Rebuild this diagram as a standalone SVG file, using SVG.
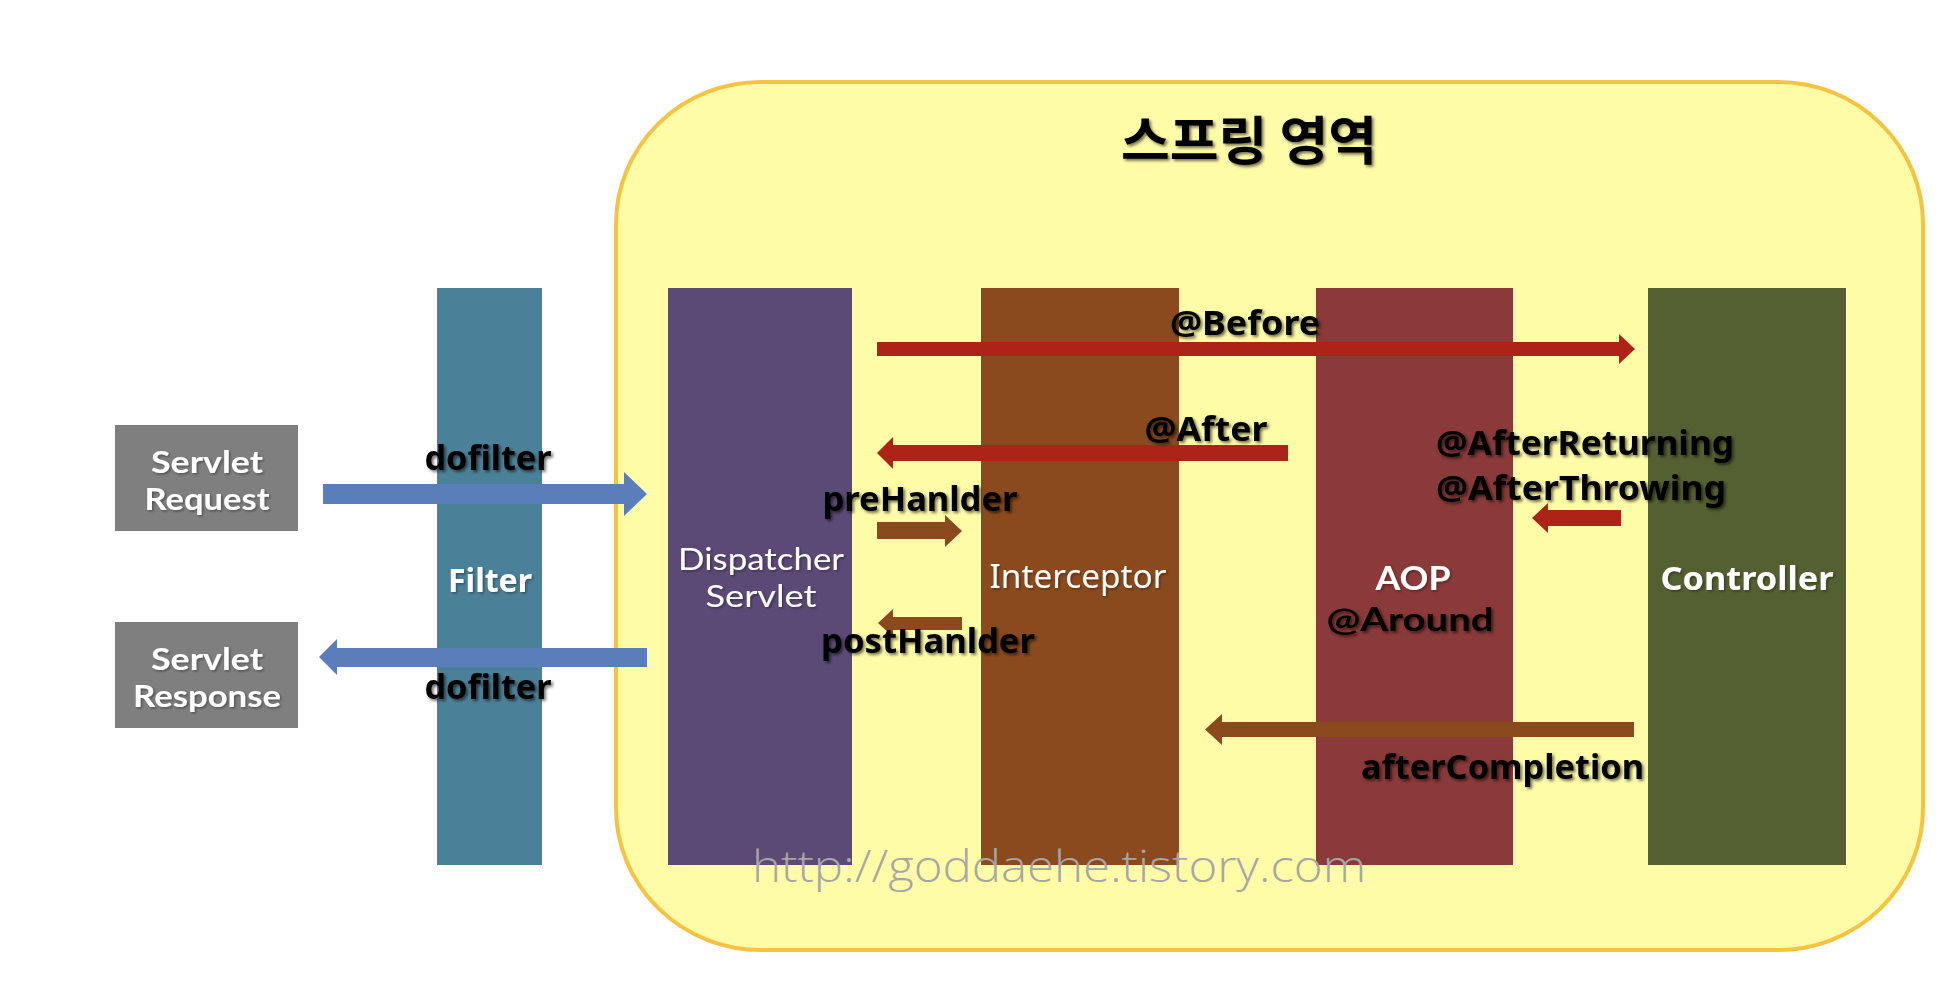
<svg xmlns="http://www.w3.org/2000/svg" width="1958" height="990" viewBox="0 0 1958 990">
<defs>
<filter id="sh" x="-10%" y="-30%" width="120%" height="160%">
<feDropShadow dx="2" dy="2" stdDeviation="1.6" flood-color="#000" flood-opacity="0.55"/>
</filter>
<filter id="shw" x="-10%" y="-30%" width="120%" height="160%">
<feDropShadow dx="1.5" dy="1.5" stdDeviation="1" flood-color="#000" flood-opacity="0.35"/>
</filter>
</defs>
<style>
.lbl{font-family:"Noto Sans","Liberation Sans",sans-serif;font-weight:bold;font-size:34px;fill:#000;filter:url(#sh)}
.wt{font-family:"Noto Sans","Liberation Sans",sans-serif;font-size:33px;fill:#fff;text-anchor:middle;filter:url(#shw)}
.st{font-family:Lato,"Noto Sans",sans-serif;font-size:31px}
.st33{font-family:Lato,"Noto Sans",sans-serif;font-size:33px}
.wb{font-weight:bold}
.mid{text-anchor:middle}
.blue{fill:#5A7EBA}
.red{fill:#AE2318}
.brown{fill:#8B4A1E}
</style>
<rect width="1958" height="990" fill="#fff"/>

<g id="spring-area">
<rect x="616" y="82" width="1307" height="868" rx="145" ry="142" fill="#FFFCA8" stroke="#F5C242" stroke-width="4"/>
<text x="1249" y="160" font-family="'Noto Sans CJK KR',sans-serif" font-weight="bold" font-size="52" text-anchor="middle" textLength="256" lengthAdjust="spacingAndGlyphs" filter="url(#sh)">스프링 영역</text>
</g>

<g id="servlet-request">
<rect x="115" y="425" width="183" height="106" fill="#7F7F7F"/>
<text class="wt st wb" x="207" y="473" textLength="112" lengthAdjust="spacingAndGlyphs">Servlet</text>
<text class="wt st wb" x="207" y="510" textLength="125" lengthAdjust="spacingAndGlyphs">Request</text>
</g>

<g id="servlet-response">
<rect x="115" y="622" width="183" height="106" fill="#7F7F7F"/>
<text class="wt st wb" x="207" y="670" textLength="112" lengthAdjust="spacingAndGlyphs">Servlet</text>
<text class="wt st wb" x="207" y="707" textLength="148" lengthAdjust="spacingAndGlyphs">Response</text>
</g>

<g id="filter">
<rect x="437" y="288" width="105" height="577" fill="#4B8198"/>
<text class="wt wb" x="490" y="592" textLength="84" lengthAdjust="spacingAndGlyphs">Filter</text>
</g>

<g id="dispatcher-servlet">
<rect x="668" y="288" width="184" height="577" fill="#5C4A76"/>
<text class="wt st" x="761" y="570" textLength="166" lengthAdjust="spacingAndGlyphs">Dispatcher</text>
<text class="wt st" x="761" y="607" textLength="111" lengthAdjust="spacingAndGlyphs">Servlet</text>
</g>

<g id="interceptor">
<rect x="981" y="288" width="198" height="577" fill="#8B4A1E"/>
<text class="wt" x="1078" y="588" textLength="177" lengthAdjust="spacingAndGlyphs">Interceptor</text>
</g>

<g id="aop">
<rect x="1316" y="288" width="197" height="577" fill="#8A3A38"/>
<text class="wt st33 wb" x="1413" y="590" textLength="75" lengthAdjust="spacingAndGlyphs">AOP</text>
<text class="lbl st33 mid" x="1410" y="631" textLength="167" lengthAdjust="spacingAndGlyphs">@Around</text>
</g>

<g id="controller">
<rect x="1648" y="288" width="198" height="577" fill="#546031"/>
<text class="wt wb" x="1747" y="590" textLength="173" lengthAdjust="spacingAndGlyphs">Controller</text>
</g>

<g id="connectors">
<polygon class="blue" points="323,484 624,484 624,472 647,494 624,516 624,504 323,504"/>
<polygon class="blue" points="647,648 337,648 337,639 319,657 337,675 337,667 647,667"/>
<polygon class="red" points="877,342 1619,342 1619,334 1635,349 1619,364 1619,356 877,356"/>
<polygon class="red" points="1288,445 893,445 893,437 877,453 893,469 893,461 1288,461"/>
<polygon class="brown" points="877,522 945,522 945,515 962,531 945,547 945,539 877,539"/>
<polygon class="brown" points="962,617 893,617 893,609 878,623 893,637 893,630 962,630"/>
<polygon class="red" points="1621,510 1548,510 1548,503 1532,518 1548,533 1548,526 1621,526"/>
<polygon class="brown" points="1634,722 1222,722 1222,714 1205,729.5 1222,745 1222,737 1634,737"/>
</g>

<g id="connector-labels">
<text class="lbl mid" x="488" y="470" textLength="127" lengthAdjust="spacingAndGlyphs">dofilter</text>
<text class="lbl mid" x="488" y="699" textLength="127" lengthAdjust="spacingAndGlyphs">dofilter</text>
<text class="lbl mid" x="1245" y="335" textLength="150" lengthAdjust="spacingAndGlyphs">@Before</text>
<text class="lbl mid" x="1206" y="441" textLength="123" lengthAdjust="spacingAndGlyphs">@After</text>
<text class="lbl mid" x="920" y="511" textLength="195" lengthAdjust="spacingAndGlyphs">preHanlder</text>
<text class="lbl mid" x="928" y="653" textLength="214" lengthAdjust="spacingAndGlyphs">postHanlder</text>
<text class="lbl" x="1436" y="455" textLength="298" lengthAdjust="spacingAndGlyphs">@AfterReturning</text>
<text class="lbl" x="1436" y="500" textLength="290" lengthAdjust="spacingAndGlyphs">@AfterThrowing</text>
<text class="lbl" x="1361" y="779" textLength="283" lengthAdjust="spacingAndGlyphs">afterCompletion</text>
</g>

<text x="752" y="882" font-family="'Open Sans','Liberation Sans',sans-serif" font-weight="300" font-size="44" fill="#A6A6A6" textLength="614" lengthAdjust="spacingAndGlyphs">http://goddaehe.tistory.com</text>
</svg>
